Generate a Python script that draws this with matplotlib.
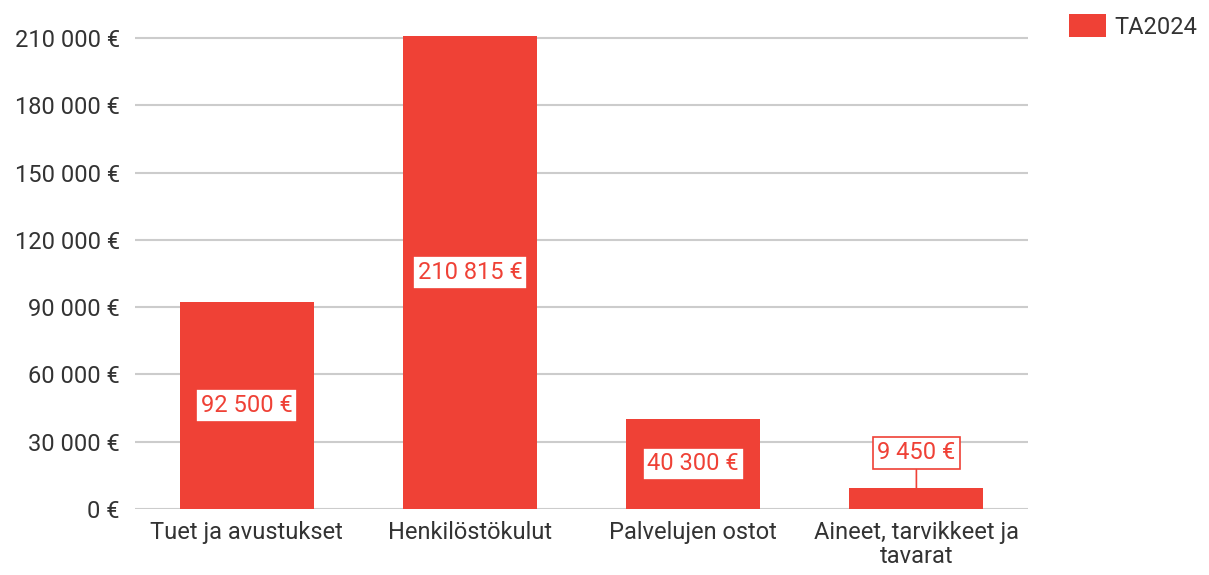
import matplotlib.pyplot as plt
from matplotlib.patches import Patch

plt.rcParams['font.family'] = ['Roboto', 'DejaVu Sans']

categories = ["Tuet ja avustukset", "Henkilöstökulut", "Palvelujen ostot",
              "Aineet, tarvikkeet ja\ntavarat"]
values = [92500, 210815, 40300, 9450]
value_labels = ["92 500 €", "210 815 €", "40 300 €", "9 450 €"]
yticks = [0, 30000, 60000, 90000, 120000, 150000, 180000, 210000]
ytick_labels = ["0 €", "30 000 €", "60 000 €", "90 000 €", "120 000 €",
                "150 000 €", "180 000 €", "210 000 €"]
series_name = "TA2024"

red = "#EF4136"
fs = 17

fig = plt.figure(figsize=(12.09, 5.75), dpi=100)
ax = fig.add_axes([0.1117, 0.1148, 0.7386, 0.822])

x = range(len(categories))
ax.bar(x, values, width=0.6, color=red, zorder=2)
ax.set_xlim(-0.5, len(categories) - 0.5)
ax.set_ylim(0, 210815)

ax.set_yticks(yticks)
ax.set_yticklabels(ytick_labels, fontsize=fs, color="#333333")
ax.set_xticks(list(x))
ax.set_xticklabels(categories, fontsize=fs, color="#333333", linespacing=1.05)
ax.tick_params(axis='y', length=0, pad=11)
ax.tick_params(axis='x', length=0, pad=9)
ax.grid(axis='y', color="#cccccc", linewidth=1.5, zorder=0)
for s in ax.spines.values():
    s.set_visible(False)

box = dict(boxstyle="square,pad=0.2", facecolor="white", edgecolor=red, linewidth=1.2)
for i, (v, lab) in enumerate(zip(values, value_labels)):
    if v > 20000:
        ax.text(i, v / 2, lab, ha='center', va='center', fontsize=fs,
                color=red, bbox=box, zorder=3)
    else:
        ax.annotate(lab, xy=(i, v), xytext=(i, 25000), ha='center',
                    va='center', fontsize=fs, color=red, bbox=box, zorder=3,
                    arrowprops=dict(arrowstyle='-', color=red, lw=1.2,
                                    shrinkA=0, shrinkB=0))

fig.legend(handles=[Patch(facecolor=red, label=series_name)],
           loc='upper left', bbox_to_anchor=(0.867, 1.012), frameon=False,
           fontsize=fs, handlelength=1.55, handleheight=1.1, handletextpad=0.35,
           labelcolor="#333333")

fig.savefig("out.png", dpi=100, facecolor="white")
